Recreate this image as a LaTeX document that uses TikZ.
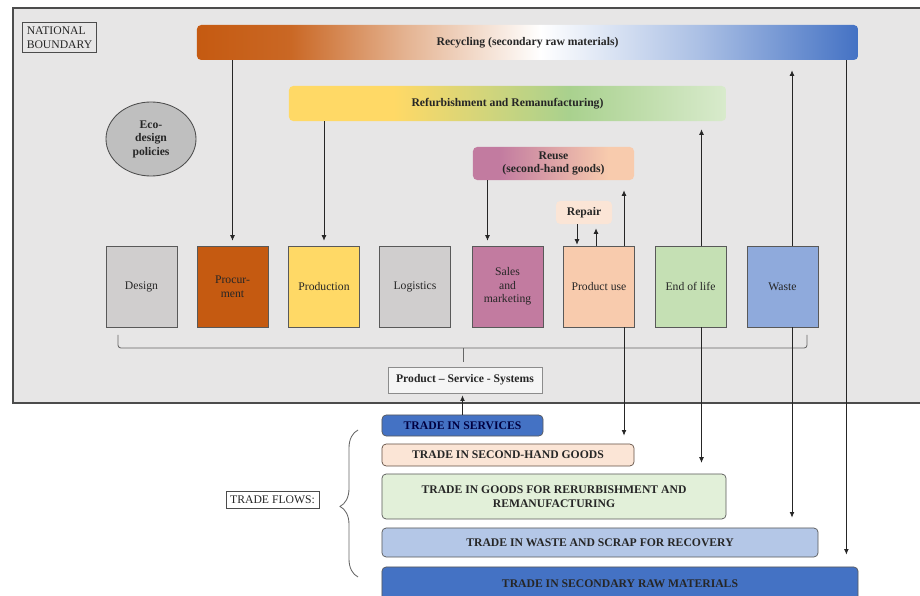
\documentclass[tikz,border=0pt]{standalone}
\usepackage{fontspec}
\setmainfont{Liberation Serif}
\usepackage{tikz}
\usetikzlibrary{arrows.meta,positioning,shapes.geometric,calc,decorations.pathreplacing}
\definecolor{cegray}{RGB}{231,230,230}
\definecolor{cegraydark}{RGB}{191,191,191}
\definecolor{cestage}{RGB}{208,206,206}
\definecolor{ceorange}{RGB}{197,90,17}
\definecolor{ceyellow}{RGB}{255,217,102}
\definecolor{celeaf}{RGB}{169,209,142}
\definecolor{cepurple}{RGB}{194,123,160}
\definecolor{cepeach}{RGB}{248,203,173}
\definecolor{cegreen}{RGB}{197,224,180}
\definecolor{ceblue}{RGB}{143,170,220}
\definecolor{cedarkblue}{RGB}{68,114,196}
\definecolor{celightpeach}{RGB}{251,229,214}
\definecolor{celightgreen}{RGB}{226,240,217}
\definecolor{celightblue}{RGB}{180,199,231}
\pgfdeclarehorizontalshading{recyclingshade}{100bp}{color(0bp)=(ceorange); color(25bp)=(ceorange);
  color(32bp)=(ceorange!92!white); color(41bp)=(ceorange!45!white); color(51bp)=(white);
  color(63bp)=(cedarkblue!45!white); color(75bp)=(cedarkblue); color(100bp)=(cedarkblue)}
\pgfdeclarehorizontalshading{refurbshade}{100bp}{color(0bp)=(ceyellow); color(25bp)=(ceyellow);
  color(37bp)=(ceyellow); color(57bp)=(celeaf); color(75bp)=(celeaf!45!white); color(100bp)=(celeaf!45!white)}
\pgfdeclarehorizontalshading{reuseshade}{100bp}{color(0bp)=(cepurple); color(25bp)=(cepurple);
  color(33bp)=(cepurple); color(67bp)=(cepeach); color(100bp)=(cepeach)}
\newcommand{\cefont}{\fontsize{8.3}{9.6}\selectfont}

\begin{document}
\begin{tikzpicture}[x=0.025cm,y=-0.025cm,
  every node/.style={font=\cefont,text=black!85},
  stagebox/.style={draw=black!65,line width=0.6pt,minimum width=1.775cm,minimum height=2.025cm,
    align=center,inner sep=2pt},
  barbox/.style={rounded corners=3pt,minimum height=0.875cm,align=center,font=\cefont\bfseries},
  tradebox/.style={draw=black!65,line width=0.5pt,rounded corners=3pt,align=center,
    font=\cefont\bfseries,inner sep=2pt},
  labelbox/.style={draw=black!70,line width=0.6pt,align=left,inner sep=3pt},
  flow/.style={-{Latex[length=4pt,width=3.5pt]},line width=0.6pt,black!85,shorten >=0.2cm},
  bracketline/.style={draw=black!60,line width=0.6pt,rounded corners=2pt}
]
  \useasboundingbox (0,0) rectangle (920,596);
  \fill[cegray] (13,8) rectangle (921,403);
  \draw[black!70,line width=0.8pt] (921,8) -- (13,8) -- (13,403) -- (921,403);

  \node[labelbox,fill=cegray] (natbound) at (59.5,37.5) {NATIONAL\\BOUNDARY};

  \node[barbox,shading=recyclingshade,minimum width=16.525cm] (recycling) at (527.5,42.5)
    {Recycling (secondary raw materials)};
  \node[barbox,shading=refurbshade,minimum width=10.925cm] (refurbishing) at (507.5,103.5)
    {Refurbishment and Remanufacturing)};
  \node[barbox,shading=reuseshade,minimum width=4.025cm,minimum height=0.825cm,inner sep=1pt] (reuse) at (553.5,163.5)
    {Reuse\\(second-hand goods)};
  \node[barbox,fill=celightpeach,minimum width=1.4cm,minimum height=0.575cm] (repair) at (584,212.5) {Repair};

  \node[ellipse,draw=black!70,line width=0.6pt,fill=cegraydark,minimum width=2.25cm,minimum height=1.85cm,
    align=center,inner sep=0pt,font=\cefont\bfseries] (ecodesign) at (151,139) {Eco-\\design\\policies};

  \node[stagebox,fill=cestage] (design) at (141.5,286.5) {Design};
  \node[stagebox,fill=ceorange] (procurement) at (232.5,286.5) {Procur-\\ment};
  \node[stagebox,fill=ceyellow] (production) at (324,286.5) {Production};
  \node[stagebox,fill=cestage] (logistics) at (415,286.5) {Logistics};
  \node[stagebox,fill=cepurple] (sales) at (507.5,286.5) {Sales\\and\\marketing};
  \node[stagebox,fill=cepeach] (productuse) at (599,286.5) {Product use};
  \node[stagebox,fill=cegreen] (endoflife) at (690.5,286.5) {End of life};
  \node[stagebox,fill=ceblue] (waste) at (782.5,286.5) {Waste};

  \draw[bracketline] (118,335) -- (118,348) -- (807,348) -- (807,335);
  \node[tradebox,rounded corners=0pt,draw=black!45,fill=white!60!cegray,minimum width=3.85cm,minimum height=0.65cm] (pss)
    at (465,380) {Product -- Service - Systems};
  \coordinate (brmid) at (463,348);
  \draw[bracketline,shorten >=0.12cm] (brmid) -- (brmid |- pss.north);

  % trade flows
  \node[tradebox,fill=cedarkblue,text=black!75!blue,minimum width=4.025cm,minimum height=0.525cm] (tradeservices)
    at (462.5,425.5) {TRADE IN SERVICES};
  \node[tradebox,draw=black!60!cepeach,fill=celightpeach,minimum width=6.3cm,minimum height=0.55cm] (tradesecondhand)
    at (508,455) {TRADE IN SECOND-HAND GOODS};
  \node[tradebox,fill=celightgreen,minimum width=8.6cm,minimum height=1.125cm] (traderefurb)
    at (554,496.5) {TRADE IN GOODS FOR RERURBISHMENT AND\\REMANUFACTURING};
  \node[tradebox,fill=celightblue,minimum width=10.9cm,minimum height=0.725cm] (tradewaste)
    at (600,542.5) {TRADE IN WASTE AND SCRAP FOR RECOVERY};
  \node[tradebox,fill=cedarkblue,minimum width=11.9cm,minimum height=0.825cm] (traderaw)
    at (620,583.5) {TRADE IN SECONDARY RAW MATERIALS};
  \node[labelbox,fill=white] (tradeflows) at (272.5,500) {TRADE FLOWS:};
  \draw[black!60,line width=0.6pt,decorate,decoration={brace,amplitude=0.45cm,aspect=0.48}] (358,577) -- (358,430);

  % arrows
  \draw[flow,shorten >=0.12cm] (recycling.south -| procurement.north) -- (procurement.north);
  \draw[flow,shorten >=0.12cm] (refurbishing.south -| production.north) -- (production.north);
  \coordinate (salesin) at ($(sales.north)+(-20,0)$);
  \draw[flow,shorten >=0.12cm] (reuse.south -| salesin) -- (salesin);
  \coordinate (repairdown) at ($(productuse.north)+(-22,0)$);
  \coordinate (repairup) at ($(productuse.north)+(-3,0)$);
  \draw[flow,shorten >=0.02cm] (repair.south -| repairdown) -- (repairdown);
  \draw[flow,shorten >=0.1cm] (repairup) -- (repair.south -| repairup);
  \coordinate (puout) at ($(productuse.north)+(25,0)$);
  \draw[flow,shorten >=0.25cm] (puout) -- (reuse.south -| puout);
  \draw[flow] (productuse.south -| puout) -- (tradesecondhand.north -| puout);
  \coordinate (eolout) at ($(endoflife.north)+(11,0)$);
  \draw[flow] (eolout) -- (refurbishing.south -| eolout);
  \draw[flow,shorten >=0.27cm] (endoflife.south -| eolout) -- (traderefurb.north -| eolout);
  \coordinate (wasteout) at ($(waste.north)+(9.5,0)$);
  \draw[flow,shorten >=0.25cm] (wasteout) -- (recycling.south -| wasteout);
  \draw[flow,shorten >=0.25cm] (waste.south -| wasteout) -- (tradewaste.north -| wasteout);
  \coordinate (recout) at ($(recycling.south east)+(-12,0)$);
  \draw[flow,shorten >=0.3cm] (recout) -- (traderaw.north -| recout);
  \draw[flow,shorten >=0.05cm] (tradeservices.north) -- (tradeservices.north |- pss.south);
\end{tikzpicture}
\end{document}
